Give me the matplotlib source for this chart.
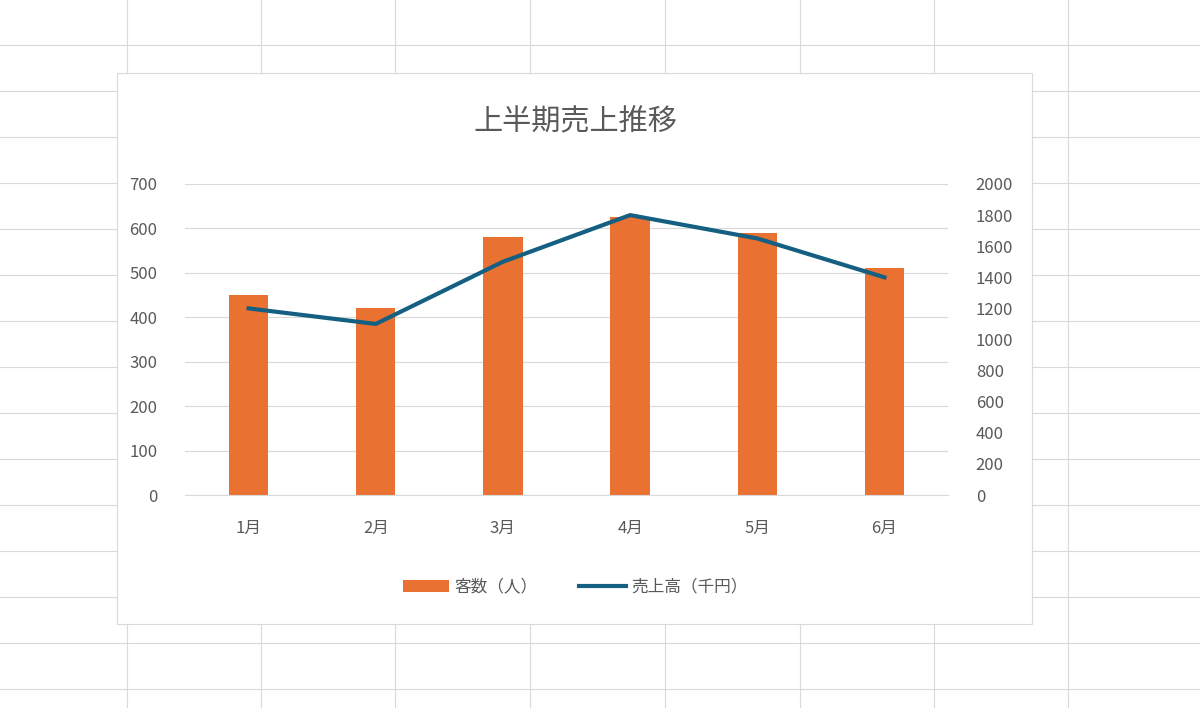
import matplotlib.pyplot as plt
from matplotlib.patches import Rectangle
from matplotlib.lines import Line2D

plt.rcParams['font.family'] = ['Noto Sans CJK JP', 'DejaVu Sans']

months = ["1月", "2月", "3月", "4月", "5月", "6月"]
visitors = [450, 420, 580, 625, 590, 510]
sales = [1200, 1100, 1500, 1800, 1650, 1400]

W, H = 1200, 708
fig = plt.figure(figsize=(12, 7.08), dpi=100)

# spreadsheet background grid
for x in [127, 261, 395, 530, 665, 800, 934, 1068]:
    fig.add_artist(Line2D([x / W, x / W], [0, 1], color="#d9d9d9", lw=0.8, zorder=-3))
for y in range(0, H, 46):
    fig.add_artist(Line2D([0, 1], [1 - (y + 45) / H] * 2, color="#d9d9d9", lw=0.8, zorder=-3))

# chart area
fig.add_artist(Rectangle((117 / W, 1 - 624 / H), 915 / W, 551 / H, facecolor="white",
                         edgecolor="#d9d9d9", lw=0.8, zorder=-2))

ax = fig.add_axes([185 / W, 1 - 495 / H, 763 / W, 311 / H])
ax.set_facecolor("none")
x = range(len(months))
ax.bar(x, visitors, width=0.31, color="#E97132", zorder=2, label="客数（人）")
ax.set_ylim(0, 700)
ax.set_xlim(-0.5, 5.5)
ax.set_yticks(range(0, 701, 100))
ax.set_xticks(list(x))
ax.set_xticklabels(months)
ax.grid(axis="y", color="#d9d9d9", lw=0.8, zorder=0)
ax.set_axisbelow(True)
for s in ["top", "right", "left"]:
    ax.spines[s].set_visible(False)
ax.spines["bottom"].set_color("#d9d9d9")
ax.tick_params(length=0, colors="#595959", labelsize=12)
ax.tick_params(axis="x", pad=18)
ax.tick_params(axis="y", pad=20)

ax2 = ax.twinx()
ax2.plot(x, sales, color="#156082", lw=3, zorder=3, label="売上高（千円）")
ax2.set_ylim(0, 2000)
ax2.set_yticks(range(0, 2001, 200))
for s in ax2.spines.values():
    s.set_visible(False)
ax2.tick_params(length=0, colors="#595959", labelsize=12, pad=20)

fig.text(575 / W, 1 - 122 / H, "上半期売上推移", ha="center", va="center",
         fontsize=21, color="#595959")

h1, l1 = ax.get_legend_handles_labels()
h2, l2 = ax2.get_legend_handles_labels()
fig.legend(h1 + h2, l1 + l2, loc="center", bbox_to_anchor=(575 / W, 1 - 587 / H),
           ncol=2, frameon=False, fontsize=12, labelcolor="#595959",
           handlelength=2.8, handletextpad=0.3, columnspacing=2.5)

fig.savefig("out.png", dpi=100)
